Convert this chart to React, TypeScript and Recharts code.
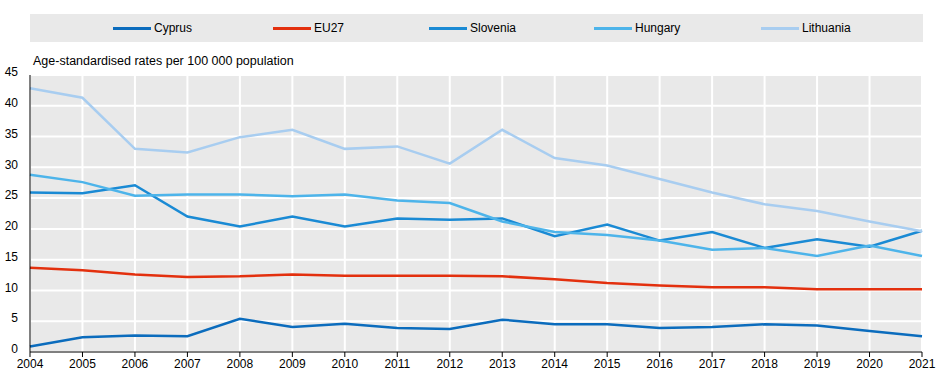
import { LineChart, Line, XAxis, YAxis, CartesianGrid } from "recharts";

const years = [
  "2004", "2005", "2006", "2007", "2008", "2009", "2010", "2011", "2012",
  "2013", "2014", "2015", "2016", "2017", "2018", "2019", "2020", "2021",
];

const cyprus = [0.9, 2.4, 2.7, 2.55, 5.4, 4.05, 4.6, 3.9, 3.75, 5.25, 4.5, 4.5, 3.9, 4.05, 4.5, 4.3, 3.4, 2.55];
const eu27 = [13.7, 13.3, 12.6, 12.2, 12.3, 12.6, 12.4, 12.4, 12.4, 12.3, 11.8, 11.2, 10.8, 10.5, 10.5, 10.2, 10.2, 10.2];
const slovenia = [25.9, 25.8, 27.1, 22.0, 20.4, 22.0, 20.4, 21.7, 21.5, 21.7, 18.8, 20.7, 18.1, 19.5, 16.9, 18.3, 17.1, 19.7];
const hungary = [28.8, 27.6, 25.4, 25.6, 25.6, 25.3, 25.6, 24.6, 24.2, 21.2, 19.5, 19.0, 18.1, 16.6, 16.9, 15.6, 17.3, 15.6];
const lithuania = [42.85, 41.3, 33.0, 32.4, 34.9, 36.1, 33.0, 33.4, 30.6, 36.1, 31.5, 30.3, 28.1, 25.9, 24.0, 22.9, 21.2, 19.6];

const yTicks = [0, 5, 10, 15, 20, 25, 30, 35, 40, 45];

const SERIES = [
  { key: "Cyprus", color: "#0b6cbd", left: 113 },
  { key: "EU27", color: "#e3300e", left: 273 },
  { key: "Slovenia", color: "#1a8ad4", left: 429 },
  { key: "Hungary", color: "#4db4ea", left: 594 },
  { key: "Lithuania", color: "#a8cdf0", left: 761 },
];

const data = years.map((y, i) => ({
  year: y,
  Cyprus: cyprus[i],
  EU27: eu27[i],
  Slovenia: slovenia[i],
  Hungary: hungary[i],
  Lithuania: lithuania[i],
}));

const FONT = "'Liberation Sans', Arial, sans-serif";

function LegendBar() {
  return (
    <div
      style={{
        position: "absolute",
        left: 30,
        top: 14,
        width: 893,
        height: 28,
        background: "#e9e9e9",
      }}
    >
      {SERIES.map((s) => (
        <div
          key={s.key}
          style={{
            position: "absolute",
            left: s.left - 30,
            top: 0,
            height: 28,
            display: "flex",
            alignItems: "center",
            gap: 3,
            fontSize: 12,
            color: "#000",
          }}
        >
          <span style={{ display: "inline-block", width: 38, height: 3, background: s.color }} />
          <span>{s.key}</span>
        </div>
      ))}
    </div>
  );
}

export default function App() {
  return (
    <div
      style={{
        position: "absolute",
        left: 0,
        top: 0,
        width: 947,
        height: 381,
        background: "#fff",
        fontFamily: FONT,
      }}
    >
      <LegendBar />
      <div style={{ position: "absolute", left: 33, top: 54, fontSize: 12.5, color: "#000" }}>
        Age-standardised rates per 100 000 population
      </div>
      <LineChart
        width={947}
        height={381}
        data={data}
        margin={{ top: 75, right: 25, bottom: 0, left: 8 }}
        style={{ position: "absolute", left: 0, top: 0 }}
      >
        <CartesianGrid fill="#e9e9e9" stroke="#ffffff" strokeWidth={2} />
        <XAxis
          dataKey="year"
          interval={0}
          height={29}
          tickSize={5}
          tickMargin={2}
          stroke="#000"
          tick={{ fill: "#000", fontSize: 12, fontFamily: FONT }}
        />
        <YAxis
          width={22}
          domain={[0, 45]}
          ticks={yTicks}
          tickLine={false}
          tickMargin={6}
          stroke="#000"
          tick={{ fill: "#000", fontSize: 12, fontFamily: FONT, dy: -3 }}
        />
        {SERIES.map((s) => (
          <Line
            key={s.key}
            dataKey={s.key}
            stroke={s.color}
            strokeWidth={2.5}
            dot={false}
            isAnimationActive={false}
          />
        ))}
      </LineChart>
    </div>
  );
}
